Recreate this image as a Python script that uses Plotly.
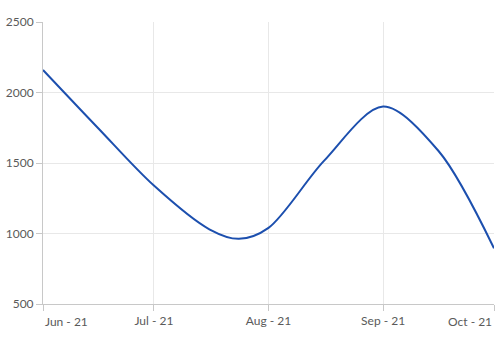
import plotly.graph_objects as go

# values
dates = ["2021-06-01", "2021-06-16", "2021-07-01", "2021-07-16", "2021-07-24",
         "2021-08-01", "2021-08-16", "2021-09-01", "2021-09-16", "2021-10-01"]
values = [2160, 1745, 1340, 1030, 962, 1040, 1515, 1900, 1585, 895]
tick_dates = ["2021-06-01", "2021-07-01", "2021-08-01", "2021-09-01", "2021-10-01"]
tick_labels = ["Jun - 21", "Jul - 21", "Aug - 21", "Sep - 21", "Oct - 21"]
y_ticks = [500, 1000, 1500, 2000, 2500]

font = dict(family="Lato, Open Sans, sans-serif", size=12, color="#5a5a5a")

fig = go.Figure()
fig.add_trace(go.Scatter(
    x=dates, y=values, mode="lines",
    line=dict(color="#1c4fae", width=2, shape="spline", smoothing=0.9),
    showlegend=False, hoverinfo="skip",
))

ticktext = [""] + tick_labels[1:-1] + [""]
fig.update_xaxes(
    type="date", range=[tick_dates[0], tick_dates[-1]],
    tickvals=tick_dates, ticktext=ticktext,
    showgrid=True, gridcolor="#e8e8e8", gridwidth=1,
    showline=True, linecolor="#c8c8c8", linewidth=1,
    ticks="outside", ticklen=6, tickcolor="#c8c8c8",
    tickfont=font, zeroline=False,
)
fig.update_yaxes(
    range=[y_ticks[0], y_ticks[-1]], tickvals=y_ticks,
    showgrid=True, gridcolor="#e8e8e8", gridwidth=1,
    showline=True, linecolor="#c8c8c8", linewidth=1,
    ticks="outside", ticklen=6, tickcolor="#c8c8c8",
    tickfont=font, zeroline=False,
)
fig.add_annotation(x=tick_dates[0], y=0, yref="paper", text=tick_labels[0],
                   showarrow=False, xanchor="left", yanchor="top", yshift=-8, font=font)
fig.add_annotation(x=tick_dates[-1], y=0, yref="paper", text=tick_labels[-1],
                   showarrow=False, xanchor="right", yanchor="top", yshift=-8, font=font)

fig.update_layout(
    width=500, height=337,
    margin=dict(l=43, r=6, t=22, b=33),
    paper_bgcolor="white", plot_bgcolor="white",
)
fig.write_html("out.html")
